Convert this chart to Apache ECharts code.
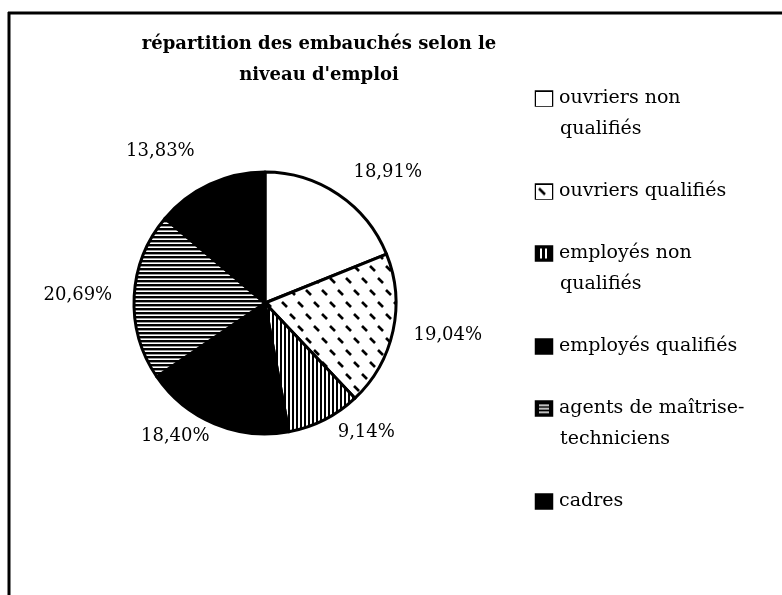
<!DOCTYPE html>
<html><head><meta charset="utf-8">
<script src="https://cdn.jsdelivr.net/npm/echarts@6/dist/echarts.min.js"></script>
<style>html,body{margin:0;padding:0;background:#fff}#c{width:782px;height:595px}</style>
</head><body><div id="c"></div>
<script>
const titleLines = ["répartition des embauchés selon le", "niveau d'emploi"];
const categories = ["ouvriers non qualifiés", "ouvriers qualifiés", "employés non qualifiés", "employés qualifiés", "agents de maîtrise-techniciens", "cadres"];
const legendLabels = [["ouvriers non", "qualifiés"], ["ouvriers qualifiés"], ["employés non", "qualifiés"], ["employés qualifiés"], ["agents de maîtrise-", "techniciens"], ["cadres"]];
const values = [18.91, 19.04, 9.14, 18.40, 20.69, 13.83];

// label leader lengths (style only, per slice)
const labelLen = [27, 21, 14, 13, 22, 36];
const labelLen2 = [0, 0, 7, 0, 0, 0];

function mk(w, h, draw) {
  const c = document.createElement('canvas'); c.width = w; c.height = h;
  const g = c.getContext('2d'); draw(g, w, h); return c;
}
const patWhite = mk(4, 4, (g,w,h) => { g.fillStyle = '#fff'; g.fillRect(0,0,w,h); });
const patDash = mk(16, 24, (g,w,h) => {
  g.fillStyle = '#fff'; g.fillRect(0,0,w,h);
  g.strokeStyle = '#000'; g.lineWidth = 2.6; g.lineCap = 'butt';
  g.beginPath(); g.moveTo(2,2); g.lineTo(7,7); g.stroke();
  g.beginPath(); g.moveTo(10,14); g.lineTo(15,19); g.stroke();
});
const patVert = mk(4, 4, (g,w,h) => { g.fillStyle = '#fff'; g.fillRect(0,0,w,h); g.fillStyle = '#000'; g.fillRect(0,0,2,h); });
const patBlack = mk(4, 4, (g,w,h) => { g.fillStyle = '#000'; g.fillRect(0,0,w,h); });
const patHoriz = mk(4, 4, (g,w,h) => { g.fillStyle = '#fff'; g.fillRect(0,0,w,h); g.fillStyle = '#000'; g.fillRect(0,0,w,2.4); });
const patterns = [patWhite, patDash, patVert, patBlack, patHoriz, patBlack];

// legend icon images
const icons = [
  mk(16, 14, (g,w,h) => { g.fillStyle = '#fff'; g.fillRect(0,0,w,h); }),
  mk(16, 14, (g,w,h) => { g.fillStyle = '#fff'; g.fillRect(0,0,w,h); g.strokeStyle = '#000'; g.lineWidth = 2.5; g.beginPath(); g.moveTo(3,4); g.lineTo(9,10); g.stroke(); }),
  mk(16, 14, (g,w,h) => { g.fillStyle = '#000'; g.fillRect(0,0,w,h); g.fillStyle = '#fff'; g.fillRect(4,2,2,h-4); g.fillRect(9,2,2,h-4); }),
  mk(16, 14, (g,w,h) => { g.fillStyle = '#000'; g.fillRect(0,0,w,h); }),
  mk(16, 14, (g,w,h) => { g.fillStyle = '#000'; g.fillRect(0,0,w,h); g.fillStyle = '#fff'; g.fillRect(3,3,w-6,1.5); g.fillRect(3,6.5,w-6,1.5); g.fillRect(3,10,w-6,1.5); }),
  mk(16, 14, (g,w,h) => { g.fillStyle = '#000'; g.fillRect(0,0,w,h); })
];

const FONT = '"DejaVu Serif", "Liberation Serif", serif';

const rich = { t: { fontFamily: FONT, fontSize: 19, color: '#000', lineHeight: 31 }, sp: { width: 24, lineHeight: 31 } };
icons.forEach((p, i) => {
  rich['i' + i] = { width: 16, height: 14, backgroundColor: { image: p }, borderColor: '#000', borderWidth: 2.5, lineHeight: 31 };
  rich['g' + i] = { width: 7, lineHeight: 31 };
});

const chart = echarts.init(document.getElementById('c'), null, { renderer: 'canvas' });
chart.setOption({
  animation: false,
  backgroundColor: '#fff',
  title: {
    text: titleLines.join('\n'),
    left: 314, top: 24, textAlign: 'center',
    textStyle: { fontFamily: FONT, fontWeight: 'bold', fontSize: 18, lineHeight: 31, color: '#000' }
  },
  legend: {
    orient: 'vertical', left: 526, top: 84,
    icon: 'none', itemWidth: 0, itemHeight: 14, itemGap: 43,
    data: categories,
    formatter: name => {
      const i = categories.indexOf(name);
      const lines = legendLabels[i];
      return lines.map((l, k) => (k === 0 ? '{i' + i + '|}{g' + i + '|}' : '{sp|}') + '{t|' + l + '}').join('\n');
    },
    textStyle: { rich: rich },
    selectedMode: false
  },
  graphic: [
    { type: 'line', shape: { x1: 8, y1: 13, x2: 782, y2: 13 }, style: { stroke: '#000', lineWidth: 3 } },
    { type: 'line', shape: { x1: 9, y1: 12, x2: 9, y2: 595 }, style: { stroke: '#000', lineWidth: 3 } }
  ],
  series: [{
    type: 'pie',
    center: [265, 303], radius: 131,
    startAngle: 90, clockwise: true,
    avoidLabelOverlap: false,
    itemStyle: { borderColor: '#000', borderWidth: 3 },
    label: {
      show: true, position: 'outside', distanceToLabelLine: 0,
      fontFamily: FONT, fontSize: 18, color: '#000',
      formatter: p => p.value.toFixed(2).replace('.', ',') + '%'
    },
    labelLine: { show: false, length: 20, length2: 0 },
    emphasis: { disabled: true },
    data: categories.map((n, i) => ({
      name: n, value: values[i],
      itemStyle: { color: { image: patterns[i], repeat: 'repeat' } },
      labelLine: { length: labelLen[i], length2: labelLen2[i] }
    }))
  }]
});
</script></body></html>
